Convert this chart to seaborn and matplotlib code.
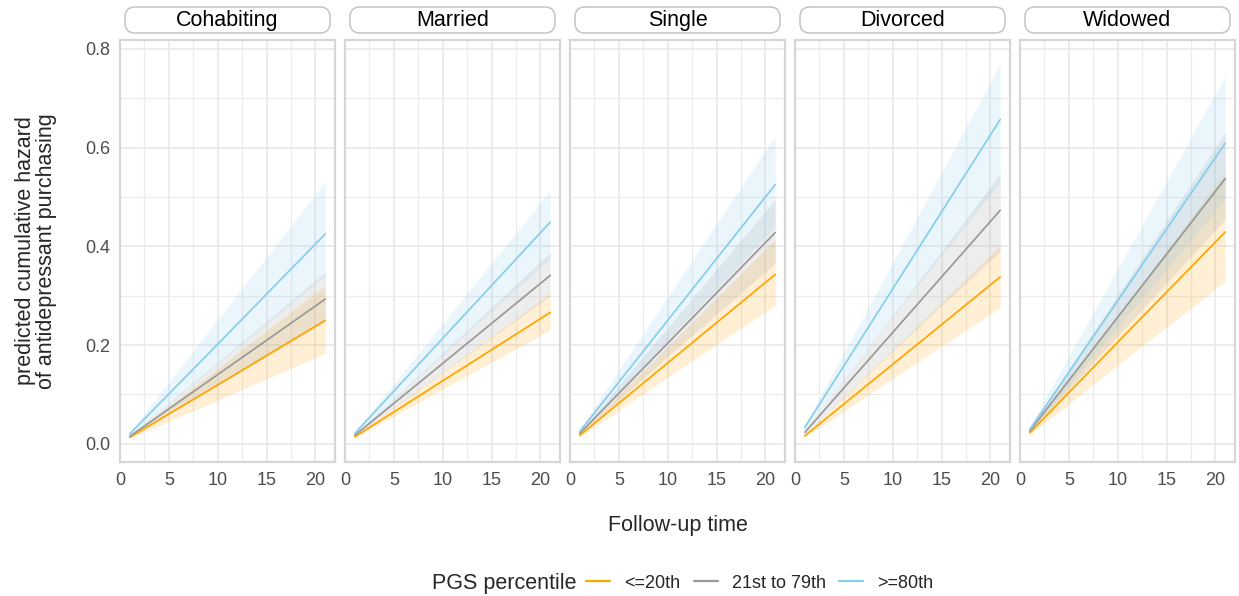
import numpy as np
import pandas as pd
import matplotlib.pyplot as plt
import seaborn as sns
from matplotlib.patches import FancyBboxPatch
from matplotlib.lines import Line2D

# ------------------------------------------------------------
# data (follow-up time 1, 11, 21)
# ------------------------------------------------------------
statuses = ['Cohabiting', 'Married', 'Single', 'Divorced', 'Widowed']
groups = ['<=20th', '21st to 79th', '>=80th']
followup = [1, 11, 21]

# <=20th
low_est = [[0.013, 0.131, 0.250], [0.014, 0.140, 0.266], [0.017, 0.180, 0.343],
           [0.016, 0.177, 0.338], [0.022, 0.226, 0.429]]
low_lo = [[0.011, 0.097, 0.183], [0.012, 0.122, 0.230], [0.014, 0.148, 0.280],
          [0.013, 0.145, 0.276], [0.018, 0.175, 0.328]]
low_hi = [[0.015, 0.168, 0.321], [0.016, 0.160, 0.305], [0.020, 0.217, 0.414],
          [0.019, 0.210, 0.402], [0.026, 0.287, 0.550]]

# 21st to 79th
mid_est = [[0.015, 0.154, 0.293], [0.017, 0.179, 0.341], [0.021, 0.224, 0.428],
           [0.023, 0.248, 0.473], [0.026, 0.282, 0.537]]
mid_lo = [[0.013, 0.130, 0.247], [0.015, 0.158, 0.300], [0.018, 0.194, 0.366],
          [0.019, 0.206, 0.390], [0.022, 0.240, 0.455]]
mid_hi = [[0.017, 0.182, 0.348], [0.019, 0.203, 0.388], [0.024, 0.259, 0.495],
          [0.027, 0.286, 0.547], [0.030, 0.331, 0.631]]

# >=80th
high_est = [[0.020, 0.222, 0.425], [0.021, 0.235, 0.449], [0.025, 0.275, 0.525],
            [0.033, 0.345, 0.657], [0.029, 0.319, 0.609]]
high_lo = [[0.016, 0.178, 0.340], [0.018, 0.198, 0.375], [0.021, 0.232, 0.440],
           [0.028, 0.282, 0.530], [0.024, 0.260, 0.495]]
high_hi = [[0.024, 0.277, 0.530], [0.024, 0.268, 0.513], [0.030, 0.327, 0.624],
           [0.039, 0.403, 0.769], [0.035, 0.390, 0.745]]

colors = ['#FFA500', '#999999', '#87CEEB']

# long table
series = {groups[0]: (low_est, low_lo, low_hi),
          groups[1]: (mid_est, mid_lo, mid_hi),
          groups[2]: (high_est, high_lo, high_hi)}
rows = []
for g, (est, lo, hi) in series.items():
    for si, s in enumerate(statuses):
        for ti, t in enumerate(followup):
            rows.append({'status': s, 'group': g, 'time': t,
                         'est': est[si][ti], 'lo': lo[si][ti], 'hi': hi[si][ti]})
df = pd.DataFrame(rows)

# ------------------------------------------------------------
# plot
# ------------------------------------------------------------
sns.set_theme(style='white')
plt.rcParams['font.family'] = ['Liberation Sans', 'DejaVu Sans']

W, H = 1239, 596
fig = plt.figure(figsize=(W / 100, H / 100), dpi=100)

left_px, top_px, bottom_px = 120, 40, 462
panel_w, gap = 215, 10
palette = dict(zip(groups, colors))

for i, status in enumerate(statuses):
    x0 = left_px + i * (panel_w + gap)
    ax = fig.add_axes([x0 / W, 1 - bottom_px / H, panel_w / W, (bottom_px - top_px) / H])
    sub = df[df['status'] == status]

    for g in groups:
        d = sub[sub['group'] == g]
        ax.fill_between(d['time'], d['lo'], d['hi'], color=palette[g], alpha=0.17, lw=0)
    sns.lineplot(data=sub, x='time', y='est', hue='group', hue_order=groups,
                 palette=palette, lw=1.25, ax=ax, legend=False)

    ax.set_xlim(0, 22)
    ax.set_ylim(-0.037, 0.818)
    ax.set_xticks([0, 5, 10, 15, 20])
    ax.set_xticks([2.5, 7.5, 12.5, 17.5], minor=True)
    ax.set_yticks([0.0, 0.2, 0.4, 0.6, 0.8])
    ax.set_yticks([0.1, 0.3, 0.5, 0.7], minor=True)
    ax.grid(True, which='major', color='#e9e9e9', lw=1.2)
    ax.grid(True, which='minor', color='#ececec', lw=0.9)
    ax.set_axisbelow(True)
    ax.tick_params(which='both', length=0, labelsize=13, colors='#4d4d4d', pad=7)
    ax.set_xlabel('')
    ax.set_ylabel('')
    if i > 0:
        ax.set_yticklabels([])
    else:
        ax.set_yticklabels(['0.0', '0.2', '0.4', '0.6', '0.8'])
    for sp in ax.spines.values():
        sp.set_color('#d6d6d6')
        sp.set_linewidth(1.6)

    # strip label
    box_l = (x0 + 5) / W
    box_w = (panel_w - 10) / W
    strip = FancyBboxPatch((box_l, 1 - 33 / H), box_w, 26 / H,
                           boxstyle='round,pad=0,rounding_size=0.008',
                           transform=fig.transFigure, fc='white', ec='#c4c4c4',
                           lw=1.1, mutation_aspect=W / H)
    fig.patches.append(strip)
    fig.text((x0 + panel_w / 2) / W, 1 - 20.5 / H, status, ha='center', va='center',
             fontsize=15.5, color='black')

# axis titles
fig.text(36 / W, 1 - 251 / H, 'predicted cumulative hazard\nof antidepressant purchasing',
         rotation=90, ha='center', va='center', fontsize=15.5, multialignment='center',
         linespacing=1.0)
fig.text(678 / W, 1 - 525 / H, 'Follow-up time', ha='center', va='center', fontsize=15.5)

# legend
fig.text(576 / W, 1 - 583 / H, 'PGS percentile', ha='right', va='center', fontsize=15.5)
handles = [Line2D([0], [0], color=c, lw=1.6) for c in colors]
fig.legend(handles, groups, loc='center left', bbox_to_anchor=(586 / W, 1 - 583 / H),
           ncol=3, frameon=False, fontsize=13, handlelength=1.35, handletextpad=0.75,
           columnspacing=0.75, borderaxespad=0, borderpad=0)

fig.savefig('out.png', dpi=100)
